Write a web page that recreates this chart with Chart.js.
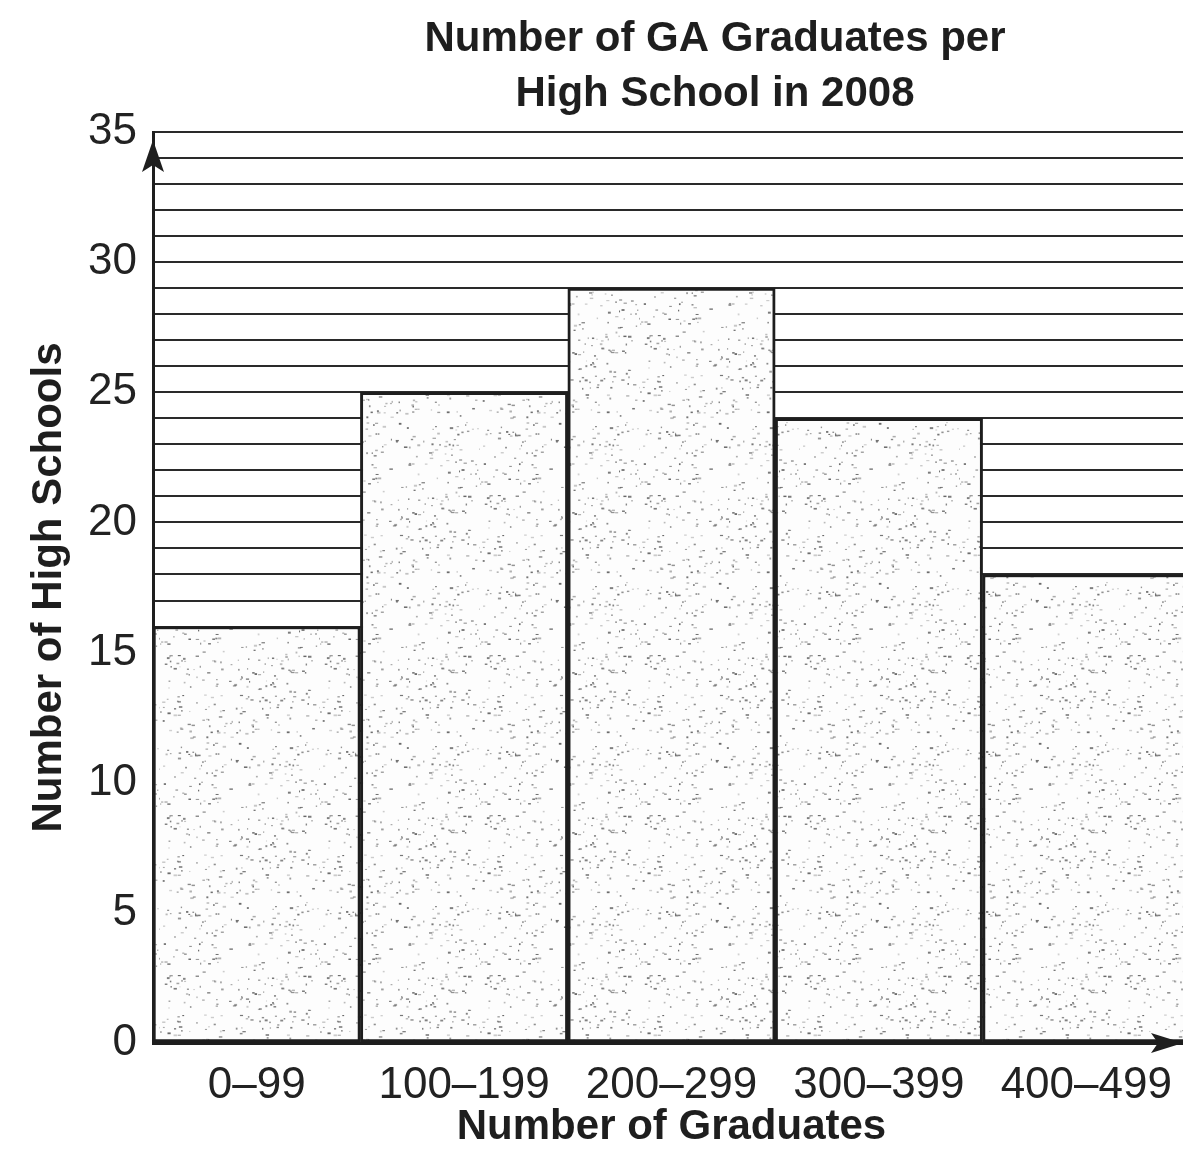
<!DOCTYPE html>
<html lang="en">
<head>
<meta charset="UTF-8">
<title>Number of GA Graduates per High School in 2008</title>
<script src="https://cdn.jsdelivr.net/npm/chart.js"></script>
<style>
    body { margin: 0; background: #fff; overflow: hidden; }
    #wrap { width: 1183px; height: 1154px; overflow: hidden; }
    canvas { display: block; }
</style>
</head>
<body>
<div id="wrap"><canvas id="histChart" width="1200" height="1154"></canvas></div>
<script>
// data
const gradRanges = ['0\u201399', '100\u2013199', '200\u2013299', '300\u2013399', '400\u2013499'];
const schoolCounts = [16, 25, 29, 24, 18];
const titleLines = ['Number of GA Graduates per', 'High School in 2008'];
const yMax = 35;
const yLabelStep = 5;

const ink = '#1e1e1e';
const fontFam = '"Liberation Sans", Arial, Helvetica, sans-serif';

// speckled fill like the printed bars
function makeStipple() {
    const c = document.createElement('canvas');
    c.width = 160; c.height = 160;
    const g = c.getContext('2d');
    g.fillStyle = '#fdfdfd';
    g.fillRect(0, 0, 160, 160);
    let seed = 11;
    const rnd = () => (seed = (seed * 16807) % 2147483647) / 2147483647;
    for (let i = 0; i < 340; i++) {
        const x = rnd() * 160, y = rnd() * 160;
        const w = 1 + rnd() * 2.5, h = 1 + rnd() * 1;
        g.fillStyle = 'rgba(50,50,50,' + (0.2 + rnd() * 0.55).toFixed(2) + ')';
        g.fillRect(x, y, w, h);
    }
    return g.createPattern(c, 'repeat');
}

const decorPlugin = {
    id: 'decor',
    afterDraw(chart) {
        const ctx = chart.ctx;
        const area = chart.chartArea;
        ctx.save();
        // title
        ctx.fillStyle = ink;
        ctx.font = 'bold 42px ' + fontFam;
        ctx.textAlign = 'center';
        ctx.textBaseline = 'middle';
        titleLines.forEach((line, i) => ctx.fillText(line, 715, 39 + i * 55));
        // arrow on y axis
        const ax = area.left;
        ctx.beginPath();
        ctx.moveTo(ax, area.top + 8);
        ctx.lineTo(ax - 11, area.top + 40);
        ctx.lineTo(ax, area.top + 33);
        ctx.lineTo(ax + 11, area.top + 40);
        ctx.closePath();
        ctx.fill();
        // arrow on x axis, at the edge of the visible picture
        const tipX = 1183, ay = area.bottom;
        ctx.beginPath();
        ctx.moveTo(tipX, ay);
        ctx.lineTo(tipX - 32, ay - 10);
        ctx.lineTo(tipX - 25, ay);
        ctx.lineTo(tipX - 32, ay + 10);
        ctx.closePath();
        ctx.fill();
        ctx.restore();
    }
};

const ctx = document.getElementById('histChart').getContext('2d');
new Chart(ctx, {
    type: 'bar',
    data: {
        labels: gradRanges,
        datasets: [{
            label: 'High Schools',
            data: schoolCounts,
            backgroundColor: makeStipple(),
            borderColor: ink,
            borderWidth: 3,
            borderSkipped: false,
            categoryPercentage: 1,
            barPercentage: 1
        }]
    },
    options: {
        responsive: false,
        animation: false,
        layout: { padding: { top: 132, right: 10, bottom: 0, left: 0 } },
        plugins: {
            legend: { display: false },
            title: { display: false },
            tooltip: { enabled: false }
        },
        scales: {
            x: {
                grid: { display: false },
                border: { display: true, color: ink, width: 3 },
                ticks: { color: '#222', font: { family: fontFam, size: 44 }, padding: 8 },
                title: {
                    display: true,
                    text: 'Number of Graduates',
                    color: ink,
                    font: { family: fontFam, size: 42, weight: 'bold' },
                    padding: { top: 0, bottom: 1 }
                },
                afterFit(scale) { scale.height = 111; }
            },
            y: {
                min: 0,
                max: yMax,
                grid: { color: '#2a2a2a', lineWidth: 2, drawTicks: false },
                border: { display: true, color: ink, width: 3 },
                ticks: {
                    stepSize: 1,
                    autoSkip: false,
                    color: '#222',
                    padding: 16,
                    font: { family: fontFam, size: 44 },
                    callback: (v) => (v % yLabelStep === 0 ? v : '')
                },
                title: {
                    display: true,
                    text: 'Number of High Schools',
                    color: ink,
                    font: { family: fontFam, size: 42, weight: 'bold' },
                    padding: { top: 24, bottom: 0 }
                },
                afterFit(scale) { scale.width = 153; }
            }
        }
    },
    plugins: [decorPlugin]
});
</script>
</body>
</html>
